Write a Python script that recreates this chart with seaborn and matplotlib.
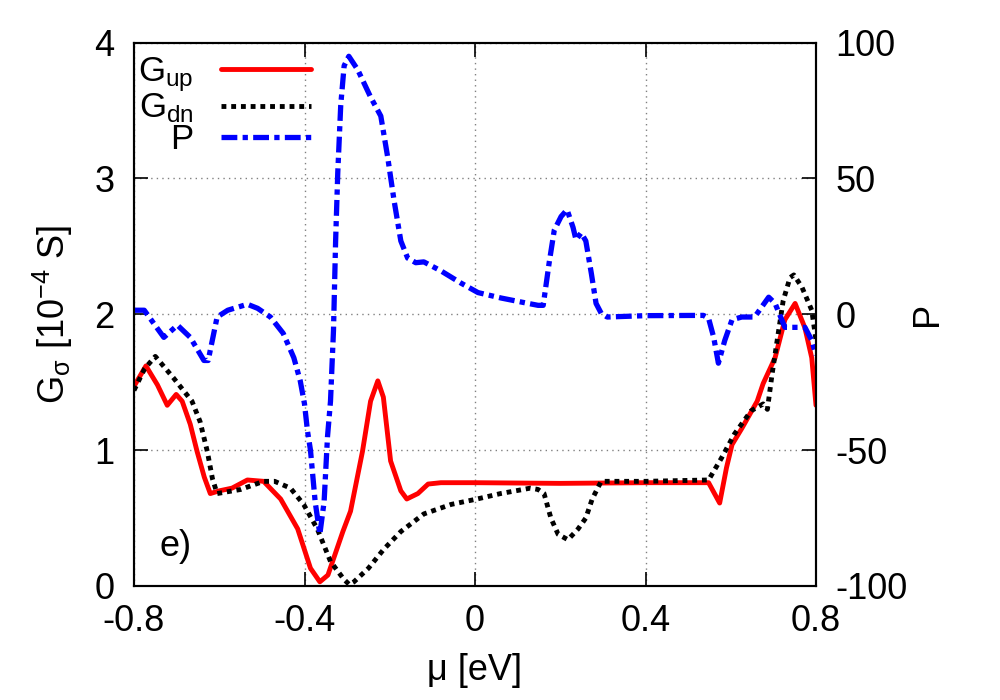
import numpy as np
import pandas as pd
import matplotlib
matplotlib.use("Agg")
import matplotlib.pyplot as plt
import seaborn as sns

# G_up (10^-4 S) vs mu (eV)
mu_up = [-0.80, -0.772, -0.745, -0.722, -0.701, -0.687, -0.668, -0.652, -0.635, -0.621,
         -0.60, -0.57, -0.534, -0.496, -0.456, -0.416, -0.386, -0.364, -0.345, -0.31,
         -0.292, -0.264, -0.245, -0.228, -0.215, -0.198, -0.174, -0.16, -0.134, -0.11,
         -0.08, 0.0, 0.2, 0.4, 0.548, 0.574, 0.59, 0.603, 0.626, 0.662, 0.676, 0.704,
         0.727, 0.751, 0.774, 0.79, 0.80]
g_up = [1.47, 1.62, 1.48, 1.33, 1.41, 1.36, 1.19, 0.99, 0.80, 0.68,
        0.70, 0.72, 0.78, 0.77, 0.64, 0.42, 0.13, 0.03, 0.08, 0.40,
        0.55, 0.99, 1.36, 1.51, 1.39, 0.92, 0.70, 0.64, 0.68, 0.75,
        0.76, 0.76, 0.755, 0.76, 0.76, 0.61, 0.87, 1.04, 1.16, 1.36, 1.49, 1.68,
        1.96, 2.08, 1.90, 1.68, 1.33]

# G_dn
mu_dn = [-0.80, -0.775, -0.75, -0.707, -0.664, -0.645, -0.628, -0.616, -0.605, -0.55,
         -0.496, -0.47, -0.433, -0.402, -0.37, -0.339, -0.308, -0.295, -0.284, -0.25,
         -0.214, -0.174, -0.12, -0.056, 0.005, 0.06, 0.13, 0.148, 0.162, 0.178,
         0.195, 0.218, 0.242, 0.26, 0.275, 0.296, 0.4, 0.548, 0.578, 0.609, 0.648,
         0.676, 0.686, 0.697, 0.709, 0.723, 0.739, 0.748, 0.767, 0.79, 0.80]
g_dn = [1.44, 1.60, 1.69, 1.53, 1.36, 1.21, 0.99, 0.79, 0.68, 0.71,
        0.77, 0.77, 0.72, 0.60, 0.42, 0.18, 0.05, 0.01, 0.03, 0.13,
        0.27, 0.40, 0.53, 0.60, 0.64, 0.68, 0.72, 0.71, 0.68, 0.50,
        0.38, 0.34, 0.42, 0.50, 0.64, 0.77, 0.77, 0.78, 0.94, 1.12, 1.29,
        1.34, 1.30, 1.56, 1.81, 2.10, 2.27, 2.29, 2.20, 2.03, 1.81]

# polarization P (%)
mu_p = [-0.80, -0.776, -0.73, -0.698, -0.668, -0.636, -0.626, -0.605, -0.58, -0.534,
        -0.51, -0.48, -0.45, -0.425, -0.41, -0.40, -0.393, -0.386, -0.375, -0.364,
        -0.354, -0.346, -0.339, -0.332, -0.327, -0.322, -0.315, -0.307, -0.296, -0.275,
        -0.245, -0.221, -0.205, -0.19, -0.174, -0.158, -0.139, -0.12, -0.08, -0.033,
        0.007, 0.061, 0.125, 0.148, 0.16, 0.174, 0.186, 0.202, 0.216, 0.23,
        0.237, 0.249, 0.26, 0.273, 0.284, 0.296, 0.31, 0.4, 0.536, 0.548,
        0.56, 0.571, 0.586, 0.603, 0.626, 0.656, 0.689, 0.704, 0.727, 0.751,
        0.774, 0.79, 0.80]
p_val = [1.5, 1.5, -8.5, -4.0, -8.5, -17.0, -17.0, -1.0, 1.5, 3.7,
         2.2, -1.0, -7.0, -16.0, -24.5, -33.0, -43.0, -50.0, -69.0, -81.0,
         -69.0, -45.0, -32.0, -6.0, 27.0, 52.0, 77.0, 91.5, 95.0, 90.0,
         80.0, 73.0, 58.0, 42.0, 27.0, 20.7, 19.0, 19.3, 16.0, 11.5,
         8.0, 6.0, 4.0, 3.3, 3.3, 19.0, 31.0, 36.0, 38.5, 32.0,
         27.4, 30.0, 27.0, 15.0, 4.0, 0.4, -1.0, -0.5, -0.4, -1.5,
         -8.5, -18.0, -9.6, -2.0, -1.0, -1.0, 6.3, 4.0, -4.8, -4.8,
         -4.8, -9.6, -15.0]

x_ticks = [-0.8, -0.4, 0, 0.4, 0.8]
x_ticklabels = ["-0.8", "-0.4", "0", "0.4", "0.8"]
g_ticks = [0, 1, 2, 3, 4]
p_ticks = [-100, -50, 0, 50, 100]

sns.set_style("ticks")
plt.rcParams["font.family"] = ["Liberation Sans", "DejaVu Sans"]
plt.rcParams["mathtext.default"] = "regular"
plt.rcParams["axes.unicode_minus"] = False
plt.rcParams["text.color"] = "black"
plt.rcParams["axes.labelcolor"] = "black"
plt.rcParams["xtick.color"] = "black"
plt.rcParams["ytick.color"] = "black"
plt.rcParams["axes.edgecolor"] = "black"

FS = 26

fig = plt.figure(figsize=(10, 7), dpi=100)
ax = fig.add_axes([0.134, 0.163, 0.682, 0.776])
ax2 = ax.twinx()

sns.lineplot(x=mu_up, y=g_up, ax=ax, color="#ff0000", lw=3.5, linestyle="-",
             label="G$_{up}$", legend=False)
sns.lineplot(x=mu_dn, y=g_dn, ax=ax, color="black", lw=3.5, linestyle=(0, (1, 1)),
             label="G$_{dn}$", legend=False)
sns.lineplot(x=mu_p, y=p_val, ax=ax2, color="#0000ff", lw=3.8, linestyle=(0, (3, 1, 1, 1)),
             label="P", legend=False)

ax.set_xlim(-0.8, 0.8)
ax.set_ylim(0, 4)
ax2.set_ylim(-100, 100)
ax.set_xticks(x_ticks)
ax.set_xticklabels(x_ticklabels)
ax.set_yticks(g_ticks)
ax2.set_yticks(p_ticks)

ax.grid(True, linestyle=(0, (1, 3)), color="gray", lw=1)
ax.tick_params(direction="in", length=10, width=1.2, labelsize=FS, top=True)
ax.tick_params(axis="x", pad=13)
ax.tick_params(axis="y", pad=14)
ax2.tick_params(direction="in", length=10, width=1.2, labelsize=FS, pad=14)
for a in (ax, ax2):
    for s in a.spines.values():
        s.set_linewidth(1.5)

ax.set_xlabel("μ [eV]", fontsize=FS, labelpad=10)
ax.set_ylabel("G$_{σ}$ [10$^{-4}$ S]", fontsize=FS, labelpad=14)
ax2.set_ylabel("P", fontsize=FS, labelpad=2)

ax.text(-0.74, 0.22, "e)", fontsize=FS)

handles = ax.get_lines()[:2] + ax2.get_lines()[:1]
labels = [h.get_label() for h in handles]
ax.legend(handles, labels, loc="upper left", bbox_to_anchor=(-0.04, 1.035),
          frameon=False, markerfirst=False, handlelength=2.6, labelspacing=-0.06,
          handletextpad=0.8, fontsize=25)

fig.savefig("out.png", dpi=100)
